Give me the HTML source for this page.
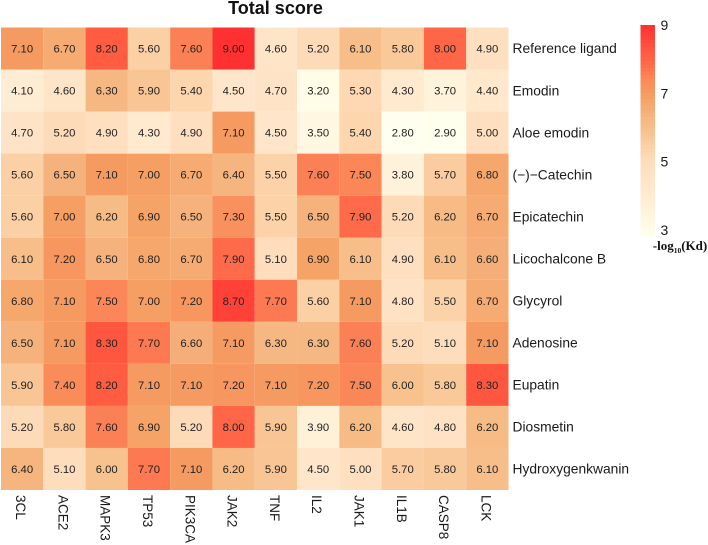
<!DOCTYPE html>
<html>
<head>
<meta charset="utf-8">
<title>Total score</title>
<style>
html,body{margin:0;padding:0;background:#fff;width:708px;height:545px;overflow:hidden}
svg{display:block;font-family:"Liberation Sans",Arial,sans-serif}
</style>
</head>
<body>
<svg id="chart" width="708" height="545" viewBox="0 0 708 545" xmlns="http://www.w3.org/2000/svg">
<text x="275.5" y="14" font-size="18" font-weight="bold" text-anchor="middle" fill="#111">Total score</text>
<g id="cells"></g>
<g id="rowlabels"></g>
<g id="collabels"></g>
<g id="legend"></g>
<text x="680" y="250" font-family="Liberation Serif, serif" font-size="13" font-weight="bold" text-anchor="middle" fill="#111">-log<tspan font-size="7.5" dy="3">10</tspan><tspan dy="-3">(Kd)</tspan></text>
</svg>
<script>
const columnNames = ["3CL","ACE2","MAPK3","TP53","PIK3CA","JAK2","TNF","IL2","JAK1","IL1B","CASP8","LCK"];
const rowNames = ["Reference ligand","Emodin","Aloe emodin","(\u2212)\u2212Catechin","Epicatechin","Licochalcone B","Glycyrol","Adenosine","Eupatin","Diosmetin","Hydroxygenkwanin"];
const scoreReferenceLigand = [7.1,6.7,8.2,5.6,7.6,9.0,4.6,5.2,6.1,5.8,8.0,4.9];
const scoreEmodin = [4.1,4.6,6.3,5.9,5.4,4.5,4.7,3.2,5.3,4.3,3.7,4.4];
const scoreAloeEmodin = [4.7,5.2,4.9,4.3,4.9,7.1,4.5,3.5,5.4,2.8,2.9,5.0];
const scoreCatechin = [5.6,6.5,7.1,7.0,6.7,6.4,5.5,7.6,7.5,3.8,5.7,6.8];
const scoreEpicatechin = [5.6,7.0,6.2,6.9,6.5,7.3,5.5,6.5,7.9,5.2,6.2,6.7];
const scoreLicochalconeB = [6.1,7.2,6.5,6.8,6.7,7.9,5.1,6.9,6.1,4.9,6.1,6.6];
const scoreGlycyrol = [6.8,7.1,7.5,7.0,7.2,8.7,7.7,5.6,7.1,4.8,5.5,6.7];
const scoreAdenosine = [6.5,7.1,8.3,7.7,6.6,7.1,6.3,6.3,7.6,5.2,5.1,7.1];
const scoreEupatin = [5.9,7.4,8.2,7.1,7.1,7.2,7.1,7.2,7.5,6.0,5.8,8.3];
const scoreDiosmetin = [5.2,5.8,7.6,6.9,5.2,8.0,5.9,3.9,6.2,4.6,4.8,6.2];
const scoreHydroxygenkwanin = [6.4,5.1,6.0,7.7,7.1,6.2,5.9,4.5,5.0,5.7,5.8,6.1];
const scoreRows = [scoreReferenceLigand,scoreEmodin,scoreAloeEmodin,scoreCatechin,scoreEpicatechin,scoreLicochalconeB,scoreGlycyrol,scoreAdenosine,scoreEupatin,scoreDiosmetin,scoreHydroxygenkwanin];
const legendTicks = [3,5,7,9];

const NS = "http://www.w3.org/2000/svg";
const plot = {left:1, right:508.5, top:27.5, bottom:490};
const bar = {left:640.5, right:655, top:25, bottom:236, min:3, max:9};
const xAt = i => plot.left + i * (plot.right - plot.left) / columnNames.length;
const yAt = i => plot.top + i * (plot.bottom - plot.top) / rowNames.length;
const legendY = v => bar.bottom - (v - bar.min) / (bar.max - bar.min) * (bar.bottom - bar.top);
const tickY = v => 230 - (v - bar.min) / (bar.max - bar.min) * 205;

const colorStops = [[2.8,[255,255,240]],[3,[255,255,236]],[4.5,[255,230,202]],[5.1,[254,221,189]],[5.5,[252,211,169]],[6.1,[247,190,138]],[6.5,[245,178,124]],[6.9,[245,163,102]],[7.1,[245,155,98]],[7.5,[251,135,88]],[7.9,[255,106,74]],[8.2,[255,92,66]],[9,[255,48,48]]];
function colorFor(v){
  for(let i=1;i<colorStops.length;i++){
    if(v<=colorStops[i][0]){
      const a=colorStops[i-1], b=colorStops[i];
      const t=(v-a[0])/(b[0]-a[0]);
      const c=a[1].map((x,k)=>Math.round(x+(b[1][k]-x)*t));
      return "rgb("+c.join(",")+")";
    }
  }
  return "rgb(255,48,48)";
}
function mk(tag, attrs, parent, text){
  const el=document.createElementNS(NS,tag);
  for(const k in attrs) el.setAttribute(k,attrs[k]);
  if(text!==undefined) el.textContent=text;
  parent.appendChild(el);
  return el;
}
const cellsG=document.getElementById("cells");
const rowG=document.getElementById("rowlabels");
const colG=document.getElementById("collabels");
const legG=document.getElementById("legend");

scoreRows.forEach((row,r)=>{
  row.forEach((v,c)=>{
    const rect=mk("rect",{x:xAt(c),y:yAt(r),width:xAt(c+1)-xAt(c),height:yAt(r+1)-yAt(r),fill:colorFor(v)},cellsG);
    
    
    const t=mk("text",{x:(xAt(c)+xAt(c+1))/2,y:(yAt(r)+yAt(r+1))/2+4,"font-size":"11.3","text-anchor":"middle",fill:"#222"},cellsG,v.toFixed(2));
    
    
  });
});
rowNames.forEach((n,r)=>{
  const t=mk("text",{x:512.5,y:(yAt(r)+yAt(r+1))/2+4.7,"font-size":"13.8",fill:"#1a1a1a"},rowG,n);
  
  
});
columnNames.forEach((n,c)=>{
  const x=(xAt(c)+xAt(c+1))/2-6;
  const t=mk("text",{x:x,y:495,"font-size":"13.5",fill:"#1a1a1a",transform:"rotate(90 "+x+" 495)"},colG,n);
  
  
});
const barSteps=[];
for(let i=0;i<60;i++) barSteps.push(bar.min+i/10);
barSteps.forEach(v=>{
  const y1=legendY(v+0.1), y0=legendY(v);
  const rect=mk("rect",{x:bar.left,y:y1,width:bar.right-bar.left,height:y0-y1+0.5,fill:colorFor(v+0.05)},legG);
  
  
});
legendTicks.forEach(v=>{
  const t=mk("text",{x:660.5,y:tickY(v)+5,"font-size":"14",fill:"#1a1a1a"},legG,String(v));
  
  
});
</script>
</body>
</html>
